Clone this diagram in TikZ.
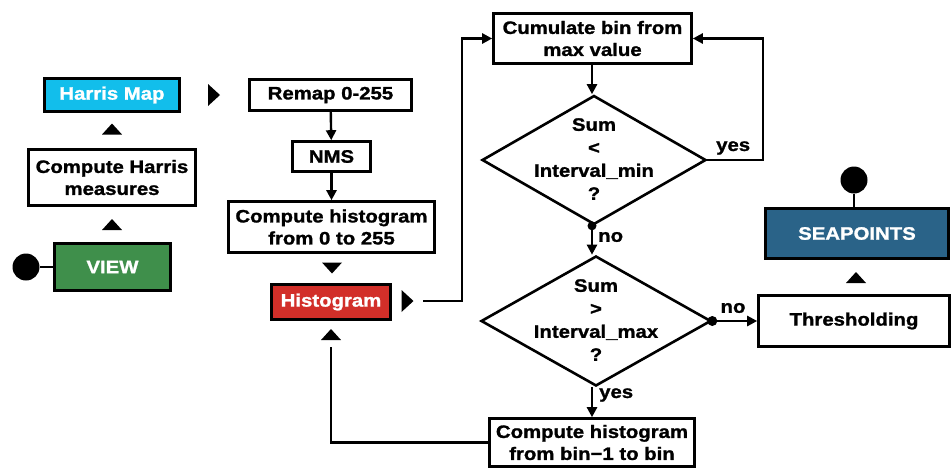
\documentclass[tikz,border=0pt]{standalone}
\usepackage{fontspec}
\setmainfont[FakeStretch=1.13, BoldFeatures={FakeBold=1.3}]{Liberation Sans}
\usetikzlibrary{shapes.geometric,arrows.meta,calc}

\definecolor{harriscol}{HTML}{12BEEB}
\definecolor{viewcol}{HTML}{3F8F4B}
\definecolor{histcol}{HTML}{D22F29}
\definecolor{seapcol}{HTML}{2A6388}

\begin{document}
\begin{tikzpicture}[x=1pt,y=-1pt,
  every node/.style={font=\fontsize{18}{22}\selectfont\bfseries, align=center},
  box/.style={draw=black, line width=2.6pt, fill=white, inner sep=0pt},
  colbox/.style={box, fill=#1, text=white},
  decision/.style={draw=black, diamond, line width=2.6pt, inner sep=0pt},
  conn/.style={line width=2.4pt},
  arr/.style={conn, -{Triangle[length=10pt,width=10pt]}},
  dot/.style={circle, fill=black, inner sep=0pt, minimum size=#1},
  lab/.style={inner sep=0pt},
  tri up/.pic={\fill (-10,5.5) -- (10,5.5) -- (0,-5.5) -- cycle;},
  tri down/.pic={\fill (-10,-5.5) -- (10,-5.5) -- (0,5.5) -- cycle;},
  tri right/.pic={\fill (-6,-11) -- (-6,11) -- (6,0) -- cycle;}]

\useasboundingbox (0,0) rectangle (951,469);

% left column: view -> Harris measures -> Harris map
\node[colbox=viewcol, minimum width=116pt, minimum height=47pt] (view) at (112.5,267) {VIEW};
\node[box, minimum width=167pt, minimum height=56pt] (meas) at (112,177.5) {Compute Harris\\measures};
\node[colbox=harriscol, minimum width=135pt, minimum height=33pt] (harris) at (112,95) {Harris Map};
\node[dot=27pt] (vdot) at (26,267) {};
\draw[conn] (vdot) -- (view.west);
\pic at (112,224.5) {tri up};
\pic at (112,129) {tri up};
\pic at (214,95) {tri right};

% middle column: remap, NMS, histogram
\node[box, minimum width=162pt, minimum height=31pt] (remap) at (330.5,95) {Remap 0-255};
\node[box, minimum width=78pt, minimum height=30pt] (nms) at (331.5,156.5) {NMS};
\node[box, minimum width=206pt, minimum height=51pt] (hist0) at (331.5,227) {Compute histogram\\from 0 to 255};
\node[colbox=histcol, minimum width=119pt, minimum height=35pt] (hist) at (331,302) {Histogram};
\draw[arr] (remap) -- (nms);
\draw[arr] (nms) -- (hist0);
\pic at (332,268) {tri down};
\pic at (407.5,301) {tri right};
\pic at (331,334.5) {tri up};

% cumulation loop
\node[box, minimum width=198pt, minimum height=50pt] (cumul) at (592.5,38.5) {Cumulate bin from\\max value};
\node[decision, minimum width=224pt, minimum height=129pt] (d1) at (594,160) {};
\node[lab, font=\fontsize{18}{23}\selectfont\bfseries] at ([yshift=1pt]d1) {Sum\\<\\Interval\_min\\?};
\node[decision, minimum width=230pt, minimum height=130pt] (d2) at (596,321) {};
\node[lab, font=\fontsize{18}{23}\selectfont\bfseries] at ([yshift=1pt]d2) {Sum\\>\\Interval\_max\\?};
\node[box, minimum width=205pt, minimum height=48pt] (hbin) at (592,442.5) {Compute histogram\\from bin−1 to bin};

\draw[arr] (cumul.south -| 592,0) -- (d1.north -| 592,0);
\draw[arr] (d1.south -| 592,0) -- (d2.north -| 592,0);
\fill (d1.south -| 592,0) circle (4.5pt);
\node[lab, anchor=west] at (598,237) {no};
\draw[arr] (d2.south -| 592,0) -- (hbin.north -| 592,0);
\node[lab, anchor=west] at (599,395) {yes};
\draw[arr] (d1.east) -- (763,160) |- (cumul.east);
\node[lab, anchor=west] at (716,148) {yes};

\coordinate (hout) at (423,301);
\draw[arr] (hout) -- (462,301) |- (cumul.west);
\coordinate (hin) at (331,347);
\draw[conn] (hbin.west) -| (hin);

% exit: thresholding -> seapoints
\node[box, minimum width=191pt, minimum height=51pt] (thresh) at (854,321) {Thresholding};
\node[colbox=seapcol, minimum width=183pt, minimum height=50pt] (seap) at (857,233.5) {SEAPOINTS};
\draw[arr] (d2.east) -- (thresh.west);
\fill (d2.east) circle (5pt);
\node[lab] at (733,308) {no};
\pic at (856,277.5) {tri up};
\node[dot=27pt] (sdot) at (854,180) {};
\draw[conn] (sdot) -- (sdot |- seap.north);
\end{tikzpicture}
\end{document}
